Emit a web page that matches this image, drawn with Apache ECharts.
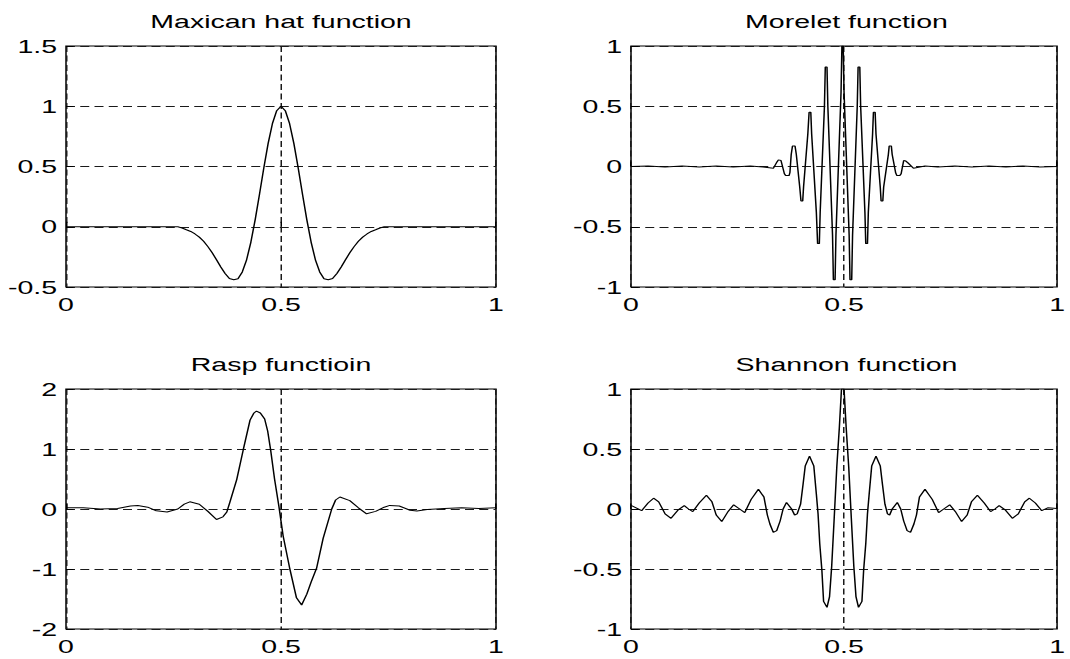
<!DOCTYPE html>
<html>
<head>
<meta charset="utf-8">
<script src="https://cdn.jsdelivr.net/npm/echarts@6/dist/echarts.min.js"></script>
<style>
html,body{margin:0;padding:0;background:#fff;overflow:hidden;width:1070px;height:659px;}
#wrap{width:1070px;height:659px;overflow:hidden;position:relative;}
#chart{position:absolute;left:0;top:0;height:659px;transform-origin:0 0;}
</style>
</head>
<body>
<div id="wrap"><div id="chart"></div></div>
<script>
// ---------- data ----------
const titles = ['Maxican hat function', 'Morelet function', 'Rasp functioin', 'Shannon function'];
const xTicks = [0, 0.5, 1];
const yRanges = [[-0.5, 1.5, 0.5], [-1, 1, 0.5], [-2, 2, 1], [-1, 1, 0.5]];

const mexicanHat = [[0,0],[0.1,0],[0.2,0],[0.26,0],[0.27,-0.01],[0.28,-0.025],[0.29,-0.039],[0.30,-0.06],[0.31,-0.086],[0.32,-0.121],[0.33,-0.165],[0.34,-0.216],[0.35,-0.274],[0.36,-0.334],[0.37,-0.388],[0.38,-0.429],[0.39,-0.44],[0.40,-0.431],[0.41,-0.375],[0.42,-0.274],[0.43,-0.127],[0.44,0.059],[0.45,0.27],[0.46,0.488],[0.47,0.69],[0.48,0.855],[0.49,0.963],[0.50,1.0],[0.51,0.963],[0.52,0.855],[0.53,0.69],[0.54,0.488],[0.55,0.27],[0.56,0.059],[0.57,-0.127],[0.58,-0.274],[0.59,-0.375],[0.60,-0.431],[0.61,-0.44],[0.62,-0.429],[0.63,-0.388],[0.64,-0.334],[0.65,-0.274],[0.66,-0.216],[0.67,-0.165],[0.68,-0.121],[0.69,-0.086],[0.70,-0.06],[0.71,-0.039],[0.72,-0.025],[0.73,-0.01],[0.74,0],[0.8,0],[0.9,0],[1,0]];

const morlet = [[0.000,0.000],[0.040,0.005],[0.080,-0.004],[0.120,0.005],[0.160,-0.004],[0.200,0.005],[0.240,-0.004],[0.280,0.005],[0.310,-0.005],[0.334,-0.015],
[0.343,0.04],[0.346,0.055],[0.352,0.05],
[0.360,-0.06],[0.363,-0.075],[0.371,-0.075],[0.373,-0.05],
[0.376,0.10],[0.379,0.17],[0.385,0.17],[0.388,0.10],
[0.396,-0.17],[0.399,-0.286],[0.403,-0.286],[0.405,-0.17],
[0.415,0.27],[0.418,0.45],[0.422,0.45],[0.424,0.27],
[0.435,-0.38],[0.438,-0.64],[0.442,-0.64],[0.444,-0.38],
[0.454,0.5],[0.456,0.825],[0.460,0.825],[0.462,0.5],
[0.473,-0.57],[0.475,-0.94],[0.479,-0.94],[0.481,-0.57],
[0.493,0.62],[0.495,1.0],[0.498,1.0],[0.500,0.62],
[0.512,-0.57],[0.514,-0.94],[0.518,-0.94],[0.520,-0.57],
[0.531,0.5],[0.533,0.825],[0.537,0.825],[0.539,0.5],
[0.549,-0.38],[0.551,-0.64],[0.555,-0.64],[0.557,-0.38],
[0.567,0.27],[0.569,0.45],[0.573,0.45],[0.575,0.27],
[0.585,-0.17],[0.587,-0.286],[0.591,-0.286],[0.593,-0.17],
[0.604,0.10],[0.606,0.17],[0.611,0.17],[0.613,0.10],
[0.621,-0.05],[0.624,-0.075],[0.631,-0.075],[0.634,-0.06],
[0.640,0.05],[0.645,0.045],[0.650,0.03],
[0.663,-0.015],[0.690,0.004],[0.720,-0.004],[0.760,0.005],[0.800,-0.004],[0.840,0.005],[0.880,-0.004],[0.920,0.005],[0.960,-0.004],[1.000,0.000]];

const rasp = [[0,0.02],[0.04,0.02],[0.08,0.0],[0.12,0.01],[0.15,0.05],[0.167,0.06],[0.19,0.03],[0.21,-0.03],[0.235,-0.05],[0.26,0.0],[0.275,0.08],[0.288,0.12],[0.31,0.08],[0.33,-0.04],[0.35,-0.175],[0.365,-0.13],[0.374,-0.05],[0.381,0.11],[0.397,0.49],[0.412,0.98],[0.428,1.48],[0.437,1.6],[0.443,1.63],[0.452,1.6],[0.462,1.5],[0.469,1.3],[0.476,0.98],[0.485,0.5],[0.495,0.05],[0.505,-0.45],[0.52,-0.98],[0.536,-1.48],[0.548,-1.6],[0.56,-1.42],[0.57,-1.22],[0.583,-0.98],[0.598,-0.49],[0.618,0.0],[0.627,0.15],[0.637,0.2],[0.66,0.14],[0.68,0.02],[0.699,-0.08],[0.72,-0.04],[0.74,0.03],[0.753,0.06],[0.775,0.05],[0.80,-0.02],[0.816,-0.035],[0.84,-0.01],[0.88,0.01],[0.92,0.02],[0.96,0.01],[1,0.02]];

const shannon = [[0.000,0.03],[0.012,0.01],[0.025,-0.014],[0.040,0.05],[0.053,0.09],[0.065,0.06],[0.080,-0.04],[0.094,-0.078],[0.110,-0.01],[0.125,0.028],[0.135,0.0],[0.145,-0.022],[0.160,0.05],[0.177,0.115],[0.190,0.06],[0.200,-0.05],[0.213,-0.105],[0.228,-0.02],[0.241,0.035],[0.255,0.0],[0.267,-0.03],[0.282,0.08],[0.299,0.165],[0.312,0.1],[0.320,-0.05],[0.326,-0.125],[0.334,-0.195],[0.342,-0.18],[0.350,-0.1],[0.357,0.0],[0.365,0.055],[0.377,0.0],[0.384,-0.05],[0.390,-0.04],[0.398,0.04],[0.404,0.21],[0.409,0.36],[0.419,0.44],[0.429,0.36],[0.435,0.125],[0.439,-0.04],[0.443,-0.29],[0.448,-0.51],[0.452,-0.77],[0.460,-0.82],[0.466,-0.73],[0.471,-0.48],[0.477,-0.07],[0.483,0.35],[0.489,0.68],[0.494,1.0],[0.500,1.0],
[0.505,0.68],[0.511,0.35],[0.517,-0.07],[0.523,-0.48],[0.528,-0.73],[0.534,-0.82],[0.542,-0.77],[0.546,-0.51],[0.551,-0.29],[0.555,-0.04],[0.559,0.125],[0.565,0.36],[0.575,0.44],[0.585,0.36],[0.590,0.21],[0.596,0.04],[0.602,-0.04],[0.607,-0.05],[0.613,0.0],[0.625,0.055],[0.633,0.0],[0.640,-0.1],[0.648,-0.18],[0.656,-0.195],[0.664,-0.125],[0.670,-0.05],[0.677,0.1],[0.690,0.165],[0.707,0.08],[0.722,-0.03],[0.734,0.0],[0.748,0.035],[0.761,-0.02],[0.776,-0.105],[0.789,-0.05],[0.799,0.06],[0.813,0.115],[0.829,0.05],[0.844,-0.022],[0.854,0.0],[0.864,0.028],[0.879,-0.01],[0.895,-0.078],[0.909,-0.04],[0.924,0.06],[0.935,0.09],[0.949,0.05],[0.964,-0.014],[0.978,0.01],[1.000,0.005]];

const seriesData = [mexicanHat, morlet, rasp, shannon];

// ---------- layout (drawn narrow, then stretched horizontally like the reference) ----------
const STRETCH = 1.5;
const W = 1070 / STRETCH;
const chartEl = document.getElementById('chart');
chartEl.style.width = W + 'px';
chartEl.style.transform = 'scaleX(' + STRETCH + ')';

const grids = [
  {left: 66 / STRETCH, top: 46, width: 430 / STRETCH, height: 241},
  {left: 631 / STRETCH, top: 46, width: 431 / STRETCH, height: 241},
  {left: 66 / STRETCH, top: 389, width: 430 / STRETCH, height: 240},
  {left: 631 / STRETCH, top: 389, width: 431 / STRETCH, height: 240}
];
const FONT = "'Liberation Sans', Arial, Helvetica, sans-serif";
const dash = {color: '#1a1a1a', width: 1, type: [6, 3.5]};

const option = {
  animation: false,
  backgroundColor: '#fff',
  title: titles.map((t, i) => ({
    text: t,
    left: grids[i].left + grids[i].width / 2,
    top: grids[i].top - 34,
    textAlign: 'center',
    padding: 0,
    textStyle: {fontFamily: FONT, fontSize: 19, fontWeight: 'normal', color: '#000'}
  })),
  grid: grids.map(g => Object.assign({show: true, borderColor: '#000', borderWidth: 1, backgroundColor: '#fff', containLabel: false}, g)),
  xAxis: grids.map((g, i) => ({
    type: 'value', gridIndex: i, min: xTicks[0], max: xTicks[xTicks.length - 1], interval: xTicks[1] - xTicks[0],
    axisLine: {show: false},
    axisTick: {show: true, inside: true, length: 5, lineStyle: {color: '#000'}},
    axisLabel: {fontFamily: FONT, fontSize: 19, color: '#000', margin: 8, showMinLabel: true, showMaxLabel: true},
    splitLine: {show: true, lineStyle: dash}
  })),
  yAxis: yRanges.map((r, i) => ({
    type: 'value', gridIndex: i, min: r[0], max: r[1], interval: r[2],
    axisLine: {show: false},
    axisTick: {show: true, inside: true, length: 5, lineStyle: {color: '#000'}},
    axisLabel: {fontFamily: FONT, fontSize: 19, color: '#000', margin: 6, showMinLabel: true, showMaxLabel: true},
    splitLine: {show: true, lineStyle: dash}
  })),
  series: seriesData.map((d, i) => ({
    type: 'line', xAxisIndex: i, yAxisIndex: i, data: d,
    showSymbol: false, symbol: 'none', smooth: false,
    lineStyle: {color: '#000', width: 1}, z: 5
  }))
};

const chart = echarts.init(chartEl, null, {renderer: 'svg'});
chart.setOption(option);
</script>
</body>
</html>
